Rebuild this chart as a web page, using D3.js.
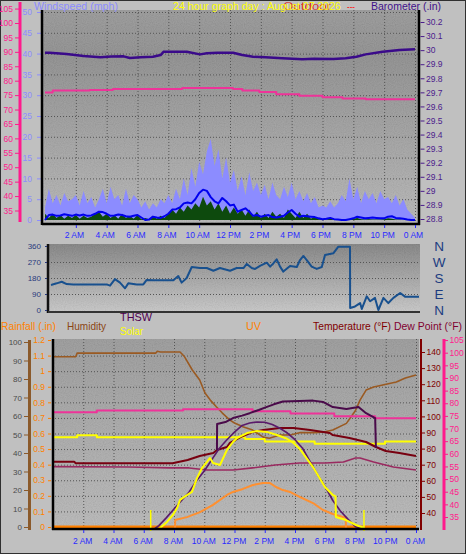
<!DOCTYPE html>
<html><head><meta charset="utf-8">
<script src="https://cdn.jsdelivr.net/npm/d3@7"></script>
<style>
body{margin:0;background:#c0c0c0;}
svg{display:block;}
text{font-family:"Liberation Sans",Arial,sans-serif;}
</style></head>
<body>
<script>
// ---------------- DATA ----------------
const hourTicks = [2,4,6,8,10,12,14,16,18,20,22,24];
const hourLabels = ["2 AM","4 AM","6 AM","8 AM","10 AM","12 PM","2 PM","4 PM","6 PM","8 PM","10 PM","0 AM"];
const windTicks = [0,5,10,15,20,25,30,35,40,45,50];
const pinkTicks = [35,40,45,50,55,60,65,70,75,80,85,90,95,100,105];
const baroTicks = [28.8,28.9,29,29.1,29.2,29.3,29.4,29.5,29.6,29.7,29.8,29.9,30,30.1,30.2];
const dirTicks = [0,90,180,270,360];
const compass = ["N","E","S","W","N"];
const humTicks = [0,10,20,30,40,50,60,70,80,90,100];
const rainTicks = [0,0.1,0.2,0.3,0.4,0.5,0.6,0.7,0.8,0.9,1,1.1,1.2];
const tempTicks = [40,50,60,70,80,90,100,110,120,130,140];

// wind, one value every 15 minutes from 0:00 to 24:00 (mph)
const windGust = [3,7.5,4,6,3.5,6.5,4.5,5,6,3.5,7,4,5.5,3,5,7.5,4,8,5,6,3.5,7.5,4,6,5,3,4.5,2.5,4,3,5,4,
  6,4,7.5,5,10,6,12.5,8,14,11,16.5,19.5,13,17,10,15,9,12,7,10.5,6,11.5,7,9,6,8.5,5,9,6,5,8,5.5,
  9,5,7,4.5,6.5,4,5.5,3,3.5,3,4.5,3,4,6,4.5,10,5,8,4,7,5,6.5,4,7,5,5.5,4,6,3.5,5,2.5,1.5,0.5];
const windAvg = [0,1.2,1.3,1.0,1.1,1.4,1.2,1.0,1.3,1.1,1.3,1.0,1.1,1.5,2.0,1.9,1.5,1.0,1.1,1.3,1.2,0.9,0.8,1.0,1.2,0.6,0.0,0.1,0.8,0.6,0.5,0.9,
  1.5,2.5,2.6,3.0,4.0,4.2,4.0,5.0,6.5,7.3,7.0,5.5,4.5,4.0,5.3,4.5,3.5,3.7,2.0,2.4,2.8,2.0,1.0,1.2,0.8,1.0,1.2,0.7,0.6,0.8,1.0,1.8,
  2.4,1.5,0.8,1.0,0.9,0.8,0.7,0.4,0.2,0.3,0.5,0.2,0.1,0.0,0.0,0.2,0.4,0.8,0.6,0.4,0.5,0.6,0.5,0.4,0.4,0.8,0.9,0.5,0.4,0.3,0.1,0.0,0];
const windLow = [1.5,0.5,1.5,0.5,1.2,0.3,1.0,0.5,1.2,0.3,1.0,0.5,0.8,1.5,2.0,0.8,1.5,0.5,1.2,0.3,1.5,0.5,1.0,0.3,1.2,0.2,0.5,0.2,1.0,0.3,1.0,0.5,
  1.5,2.5,1.5,3.0,2.0,3.5,2.5,4.0,3.0,5.6,3.5,4.5,2.5,4.0,2.0,3.5,1.5,3.0,1.5,2.5,1.0,2.5,0.8,2.0,0.5,1.5,0.5,2.0,0.8,1.5,0.5,2.5,
  1.5,0.5,2.0,0.5,1.5,0.3,0.8,0.2,0.2,0.1,0.3,0.1,0.1,0,0,0.1,0.3,0.5,0.2,0.1,0.2,0.1,0.1,0.1,0.2,0.4,0.3,0.1,0.1,0,0,0,0];

// barometer (in)
const baroHours = [0,0.3,1.4,2.5,3.6,4.3,5.1,5.5,6.2,7.0,7.5,7.7,8.4,9.2,10.05,10.5,11.2,12.2,12.8,13.5,14.3,15.4,16.7,17.4,18.7,19.5,20.2,20.8,21.9,23.0,24];
const baroVals  = [29.982,29.982,29.973,29.958,29.949,29.955,29.956,29.944,29.949,29.953,29.965,29.989,29.988,29.989,29.970,29.978,29.982,29.982,29.965,29.953,29.949,29.942,29.935,29.939,29.937,29.942,29.953,29.970,29.989,30.001,30.006];

// inside temperature (°F) as drawn in top panel and bottom panel
const inTempTopHours = [0,0.5,2.9,4.4,8.9,12.2,12.8,13.9,15.0,16.5,18.0,19.3,20.8,24];
const inTempTopVals  = [75.9,76.6,76.8,77.1,77.5,77.1,76.6,76.1,75.3,74.8,74.3,73.8,73.6,73.6];
const inTempBotHours = [0,2.9,8.6,13.2,15.7,18.6,21.3,24];
const inTempBotVals  = [76.4,77.1,77.6,76.8,75.9,74.9,74.1,74.1];

// wind direction (deg)
const dirHours = [0,0.37,0.7,1.02,1.46,3.63,3.85,4.17,4.5,4.83,5.04,5.59,6.02,6.24,6.67,7.98,8.3,8.52,8.85,9.18,9.72,10.16,10.59,11.02,11.68,12.11,12.55,12.77,13.09,13.31,13.63,14.07,14.29,14.5,14.72,14.94,15.15,15.59,16.03,16.24,16.46,16.68,17.0,17.33,17.66,17.87,18.41,18.74,19.5,19.51,19.83,20.16,20.27,20.59,20.81,21.13,21.35,21.68,22.0,22.33,22.77,23.09,23.63,24];
const dirVals  = [141,150,159,146,144,144,137,174,154,122,150,144,144,169,167,167,191,154,180,242,236,236,221,236,221,236,236,259,236,231,248,266,244,262,285,244,216,248,242,281,304,281,244,231,242,309,319,356,356,11,20,39,6,77,49,68,0,68,39,68,96,75,75,75];

// bottom panel
const humHours = [0,1.5,1.6,6.8,6.9,7.1,8.4,8.7,9.2,9.7,10.05,10.4,10.8,11.2,11.7,12.0,12.6,13.2,13.9,14.3,15.0,15.7,16.3,17.3,17.9,18.5,19.4,20.0,20.3,20.7,21.2,21.8,22.7,23.3,24];
const humVals  = [92,92,94,94,95,94.6,94.6,92,85,79.5,72.4,68.6,65,61.6,57.8,56.2,54,52.4,48.6,48,49.7,49.7,51,51,51.4,52.4,56,63,68.6,74,75.7,76.8,78.4,80.5,82.2];
const inHumHours = [0,1.6,2.9,12.7,14.0,17.3,21.95,24];
const inHumVals  = [48.5,49.6,48.5,47.6,46.2,45.0,46.2,46.2];
const tempHours = [0,1.4,1.5,7.9,8.9,9.7,10.6,10.84,11.5,11.7,12.4,13.2,13.9,15.0,15.9,17.0,18.3,18.5,19.6,20.7,21.35,22.0,22.9,24];
const tempVals  = [71.9,71.9,70.9,70.9,72.9,75.4,77.3,79.1,81,83.5,87.2,90.3,91.6,92.8,92.8,91.6,89.7,88.4,86.6,84.1,81,78.5,77.3,75.4];
const dewHours = [0,5,7.7,9,10.2,11.9,13.2,14.7,16.3,18,19.2,20,20.3,21.2,22.5,24];
const dewVals  = [68.8,68.6,68,68,66.7,66.7,68,69.8,71.1,71.1,71.7,74.2,74.2,71.7,68.6,66.7];
const thswHours = [10.84,10.85,11.4,11.9,12.5,13.0,13.6,14.1,14.6,15.2,16.3,17.2,17.85,18.5,19.4,20.2,20.7,21.3,21.35];
const thswVals  = [79.1,95.3,96.5,99,100.5,102,104,105.8,107.5,109.3,109.6,109.8,109,105.8,104.6,105.8,102,99,80.4];
const solarHours = [0,7.0,7.54,7.93,8.2,8.4,8.86,9.19,9.52,9.85,10.18,10.38,10.58,11.04,11.5,11.9,12.17,12.83,13.49,14.15,14.81,15.47,15.87,16.33,17.19,17.98,18.5,18.68,18.7,19.37,20.03,20.5,20.6,24];
const solarVals  = [0,0,37,74,110,153,179,195,268,321,353,374,347,337,416,458,479,505,516,511,495,475,455,420,326,221,179,172,63,47,21,8,0,0];
const solarMaxHours = [6.7,7.0,7.5,8.0,8.5,9.0,9.5,10.0,10.5,11.0,11.5,12.0,12.5,13.0,13.5,14.0,14.5,15.0,15.5,16.0,16.5,17.0,17.5,18.0,18.5,19.0,19.5,20.0,20.5];
const solarMaxVals  = [0,18,60,105,150,195,255,305,365,425,470,510,545,558,563,562,550,530,505,470,425,355,285,222,150,95,52,12,0];
const uvHours = [0,8.07,8.08,8.2,8.86,9.72,10.58,11.5,11.9,12.56,13.22,13.88,14.35,14.74,15.2,15.67,16.33,17.19,17.85,18.5,19.17,19.36,19.37,24];
const uvVals  = [0,0,0.57,0.6,0.75,1.07,1.52,2.15,2.34,2.53,2.78,2.9,2.9,2.65,2.46,2.34,2.02,1.64,1.2,0.95,0.76,0.76,0,0];
const rainHours = [0,24];
const rainVals  = [0,0];
const sunEvents = [6.46,20.56];

// ---------------- DRAWING ----------------
const FONT = '"Liberation Sans",Arial,sans-serif';
const svg = d3.select("body").append("svg").attr("width",466).attr("height",554);
const defs = svg.append("defs");
function grad(id, stops){
  const g = defs.append("linearGradient").attr("id",id).attr("x1",0).attr("y1",0).attr("x2",0).attr("y2",1);
  stops.forEach(s=>g.append("stop").attr("offset",s[0]).attr("stop-color",s[1]));
}
grad("gTop",[[0,"#959595"],[0.22,"#8b8b8b"],[1,"#b4b4b4"]]);
grad("gMid",[[0,"#7e7e7e"],[1,"#c6c6c6"]]);
grad("gBot",[[0,"#979797"],[1,"#b6b6b6"]]);
const nf = defs.append("filter").attr("id","noise").attr("x",0).attr("y",0).attr("width","100%").attr("height","100%");
nf.append("feTurbulence").attr("type","fractalNoise").attr("baseFrequency",0.9).attr("numOctaves",1).attr("seed",4);
nf.append("feColorMatrix").attr("type","matrix").attr("values","1 0 0 0 0  1 0 0 0 0  1 0 0 0 0  0 0 0 0 0.13");

svg.append("rect").attr("x",0.5).attr("y",0.5).attr("width",465).attr("height",553).attr("fill","#c0c0c0").attr("stroke","#303030");

function panel(x0,y0,x1,y1,gid){
  svg.append("rect").attr("x",x0).attr("y",y0).attr("width",x1-x0).attr("height",y1-y0).attr("fill",`url(#${gid})`);
  svg.append("rect").attr("x",x0).attr("y",y0).attr("width",x1-x0).attr("height",y1-y0).attr("filter","url(#noise)");
}
function styleAxis(g,color,size){
  g.attr("font-family",FONT).attr("font-size",size);
  g.select(".domain").remove();
  g.selectAll(".tick line").attr("stroke",color);
  g.selectAll(".tick text").attr("fill",color);
}
function vline(x,y0,y1,color,w,dash){const l=svg.append("line").attr("x1",x).attr("x2",x).attr("y1",y0).attr("y2",y1).attr("stroke",color).attr("stroke-width",w); if(dash) l.attr("stroke-dasharray",dash);}
function hline(y,x0,x1,color,w,dash){const l=svg.append("line").attr("x1",x0).attr("x2",x1).attr("y1",y).attr("y2",y).attr("stroke",color).attr("stroke-width",w); if(dash) l.attr("stroke-dasharray",dash);}
function drawLine(xs,ys,xScale,yScale,color,w,curve){
  const l = d3.line().x(d=>xScale(d[0])).y(d=>yScale(d[1]));
  if(curve) l.curve(curve);
  svg.append("path").datum(d3.zip(xs,ys)).attr("d",l).attr("fill","none").attr("stroke",color).attr("stroke-width",w).attr("stroke-linejoin","round");
}
function txt(x,y,s,color,size,len,anchor){
  const t = svg.append("text").attr("x",x).attr("y",y).text(s).attr("fill",color).attr("font-size",size).attr("font-family",FONT);
  if(len) t.attr("textLength",len).attr("lengthAdjust","spacingAndGlyphs");
  if(anchor) t.attr("text-anchor",anchor);
  return t;
}

// ===== TOP PANEL =====
const T={l:42,r:419,t:10,b:224};
const xTop = d3.scaleLinear().domain([0,24]).range([45,415]);
const windY = d3.scaleLinear().domain([0,50]).range([220,12]);
const baroY = d3.scaleLinear().domain([28.8,30.2]).range([219,22]);
const pinkTopY = d3.scaleLinear().domain([35,100]).range([210.5,23]);
panel(T.l,T.t,T.r,T.b,"gTop");
hourTicks.forEach(h=>vline(xTop(h)+0.5,T.t,T.b,"#555",1,"1,2"));
windTicks.slice(1).forEach(v=>hline(windY(v)+0.5,T.l,T.r,"#555",1,"1,2"));

const q = windGust.map((d,i)=>i*0.25);
svg.append("path").datum(d3.zip(q,windGust)).attr("fill","#8c8cff").attr("d",d3.area().x(d=>xTop(d[0])).y0(windY(0)).y1(d=>windY(d[1])));
svg.append("path").datum(d3.zip(q,windLow)).attr("fill","#0d4a0d").attr("d",d3.area().x(d=>xTop(d[0])).y0(windY(0)).y1(d=>windY(d[1])));
drawLine(q,windAvg,xTop,windY,"#0000ee",2);
drawLine(inTempTopHours,inTempTopVals,xTop,pinkTopY,"#ee3399",2,d3.curveStepAfter);
drawLine(baroHours,baroVals,xTop,baroY,"#3a0a8a",2.5);

// top axes
vline(20,2,222,"#ff1a8c",3);
let g = svg.append("g").attr("transform","translate(19,0)").call(d3.axisLeft(pinkTopY).tickValues(pinkTicks).tickSize(4).tickPadding(2).tickFormat(d3.format("d")));
styleAxis(g,"#ff1a8c",8.5);
g = svg.append("g").attr("transform","translate(41,0)").call(d3.axisLeft(windY).tickValues(windTicks).tickSize(4).tickPadding(5).tickFormat(d3.format("d")));
styleAxis(g,"#8c8cff",8.5);
vline(42,T.t,T.b+1,"#000",2.5);
hline(224,T.l,T.r+1,"#000",2.5);
vline(419,T.t,T.b+1,"#000",2.5);
g = svg.append("g").attr("transform","translate(420.5,0)").call(d3.axisRight(baroY).tickValues(baroTicks).tickSize(4).tickPadding(1.5).tickFormat(d=>String(+d.toFixed(1))));
styleAxis(g,"#4b1c8c",8.5);
g = svg.append("g").attr("transform","translate(0,225)").call(d3.axisBottom(xTop).tickValues(hourTicks).tickSize(3).tickPadding(4).tickFormat((d,i)=>hourLabels[i]));
styleAxis(g,"#2a2aff",8.5); g.selectAll(".tick text").attr("dx",-2);

txt(34,10,"Windspeed (mph)","#8c8cff",11,84);
txt(283,10,"Outdoor","#e02020",11,48).attr("opacity",0.85);
txt(173,10,"24 hour graph day : August 07 2026","#ffff00",11,168);
txt(347,10,"---","#ff2020",11,8);
txt(371,10,"Barometer (.in)","#40108a",11,70);

// ===== MIDDLE PANEL =====
const M={l:48,r:420,t:244,b:312};
const xMid = d3.scaleLinear().domain([0,24]).range([51,419]);
const dirY = d3.scaleLinear().domain([0,360]).range([310,246]);
panel(M.l,M.t,M.r,M.b,"gMid");
[90,180,270].forEach(v=>hline(dirY(v)+0.5,M.l,M.r,"#555",1,"1,2"));
drawLine(dirHours,dirVals,xMid,dirY,"#18508e",2);
vline(48,M.t,M.b+1,"#111",2.5);
hline(312,M.l,M.r,"#333",2);
g = svg.append("g").attr("transform","translate(47,0)").call(d3.axisLeft(dirY).tickValues(dirTicks).tickSize(2).tickPadding(4));
styleAxis(g,"#2a3a7c",8);
dirTicks.forEach((v,i)=>txt(439,dirY(v)+5,compass[i],"#1c3c80",13.5,null,"middle"));

// ===== BOTTOM PANEL =====
const B={l:52,r:419,t:339,b:529};
const xBot = d3.scaleLinear().domain([0,24]).range([53,416]);
const rainY = d3.scaleLinear().domain([0,1.2]).range([527,340]);
const humY = d3.scaleLinear().domain([0,100]).range([527,342]);
const tempY = d3.scaleLinear().domain([40,140]).range([513,352]);
const pinkBotY = d3.scaleLinear().domain([35,100]).range([517,352.7]);
const solarY = d3.scaleLinear().domain([0,1000]).range([529,339]);
const uvY = d3.scaleLinear().domain([0,12]).range([529,339]);
panel(B.l,B.t,B.r,B.b,"gBot");
hourTicks.forEach(h=>vline(xBot(h)+0.5,B.t,B.b,"#555",1,"1,2"));
rainTicks.slice(1,12).forEach(v=>hline(rainY(v)+0.5,B.l,B.r,"#555",1,"1,2"));

drawLine(rainHours,rainVals,xBot,rainY,"#ff8000",3);
drawLine(humHours,humVals,xBot,humY,"#9a5a22",1.6);
drawLine(inTempBotHours,inTempBotVals,xBot,pinkBotY,"#ee3399",2,d3.curveStepAfter);
drawLine(inHumHours,inHumVals,xBot,humY,"#ffff00",2,d3.curveStepAfter);
drawLine(dewHours,dewVals,xBot,tempY,"#9a2a60",1.6);
drawLine(tempHours,tempVals,xBot,tempY,"#780010",2);
drawLine(uvHours,uvVals,xBot,uvY,"#ff9030",2);
drawLine(solarMaxHours,solarMaxVals,xBot,solarY,"#5a1a6a",1.6);
drawLine(solarHours,solarVals,xBot,solarY,"#ffff00",2);
sunEvents.forEach(h=>vline(xBot(h),solarY(0)+2,solarY(100),"#ffff00",1.5));
drawLine(thswHours,thswVals,xBot,tempY,"#4a0a4a",2);

// bottom axes
vline(29.5,340,530,"#8b5a2b",3);
g = svg.append("g").attr("transform","translate(28,0)").call(d3.axisLeft(humY).tickValues(humTicks).tickSize(4).tickPadding(2));
styleAxis(g,"#8b5a2b",8); g.selectAll(".tick text").attr("fill","#4a4a4a");
g = svg.append("g").attr("transform","translate(51,0)").call(d3.axisLeft(rainY).tickValues(rainTicks).tickSize(3).tickPadding(3).tickFormat(d=>String(+d.toFixed(1))));
styleAxis(g,"#ff8000",8.5);
vline(53,B.t,B.b+1,"#000",2.5);
hline(529,B.l,B.r,"#000",2.5);
vline(421,B.t,530,"#800000",2);
g = svg.append("g").attr("transform","translate(421,0)").call(d3.axisRight(tempY).tickValues(tempTicks).tickSize(4).tickPadding(1.5));
styleAxis(g,"#800000",8.5);
vline(444,339,530,"#ff1a8c",3);
g = svg.append("g").attr("transform","translate(445,0)").call(d3.axisRight(pinkBotY).tickValues(pinkTicks).tickSize(3).tickPadding(1.5));
styleAxis(g,"#ff1a8c",8.5);
g = svg.append("g").attr("transform","translate(0,530)").call(d3.axisBottom(xBot).tickValues(hourTicks).tickSize(3).tickPadding(5).tickFormat((d,i)=>hourLabels[i]));
styleAxis(g,"#2a2aff",8.5); g.selectAll(".tick text").attr("dx",-1);

txt(1,330,"Rainfall (.in)","#ff8000",11,55);
txt(67,330,"Humidity","#8b4513",11,39);
txt(120,321,"THSW","#500050",11,32);
txt(120,335,"Solar","#ffff00",11,23);
txt(246,330,"UV","#ff8000",11,15);
txt(313,330,"Temperature (°F)","#800000",11,78);
txt(394,330,"Dew Point (°F)","#800030",11,68);
</script>
</body></html>
